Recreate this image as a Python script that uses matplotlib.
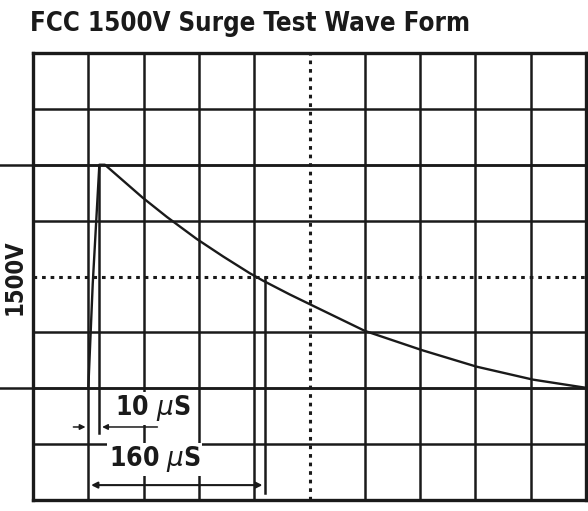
import matplotlib
matplotlib.use("Agg")
import matplotlib.pyplot as plt

# surge waveform (time in uS, amplitude in V)
time_us = [0, 4, 10, 15, 49, 71, 98, 122, 146, 158, 182, 200, 250, 302, 351, 402, 450]
volts = [0, 700, 1500, 1500, 1280, 1150, 1002, 884, 772, 722, 630, 565, 385, 255, 145, 58, 3]

peak_v = 1500
rise_us = 10
half_us = 160
div_us = 50
div_v = 375
x_range = (-50, 450)
y_range = (-750, 2250)

title = "FCC 1500V Surge Test Wave Form"
ylabel = "1500V"
rise_label = "10 $\\mu$S"
half_label = "160 $\\mu$S"

FONT = "DejaVu Sans"
INK = "#1a1a1a"
plt.rcParams["mathtext.fontset"] = "dejavusans"

fig = plt.figure(figsize=(5.88, 5.11), dpi=100)
ax = fig.add_axes([33 / 588, 11 / 511, 553 / 588, 447 / 511])
ax.set_xlim(*x_range)
ax.set_ylim(*y_range)

# scope graticule, dotted centre lines
center_x = (x_range[0] + x_range[1]) / 2
center_y = (y_range[0] + y_range[1]) / 2
for i in range(1, 10):
    x = x_range[0] + i * div_us
    if x == center_x:
        ax.axvline(x, color=INK, lw=2.2, ls=(0, (1.2, 1.6)))
    else:
        ax.axvline(x, color=INK, lw=1.8)
for i in range(1, 8):
    y = y_range[0] + i * div_v
    if y == center_y:
        ax.axhline(y, color=INK, lw=2.2, ls=(0, (1.2, 1.6)))
    else:
        ax.axhline(y, color=INK, lw=1.8)

# peak and baseline reference lines run out past the frame
left_out = x_range[0] - 33 / 553 * (x_range[1] - x_range[0])
for y in (peak_v, 0):
    ax.plot([left_out, x_range[1]], [y, y], color=INK, lw=1.8, clip_on=False)

ax.plot(time_us, volts, color=INK, lw=1.7, zorder=3, solid_joinstyle="round")

# timing markers
ax.plot([rise_us, rise_us], [peak_v, -300], color=INK, lw=1.8, zorder=3)
ax.plot([half_us, half_us], [center_y, -700], color=INK, lw=1.8, zorder=3)

arrow_kw = dict(arrowstyle="-|>", color=INK, lw=1.1, mutation_scale=8)
y_rise = -260
ax.annotate("", xy=(0, y_rise), xytext=(-16, y_rise), arrowprops=arrow_kw)
ax.annotate("", xy=(rise_us, y_rise), xytext=(65, y_rise), arrowprops=arrow_kw)
y_half = -650
ax.annotate("", xy=(half_us, y_half), xytext=(0, y_half),
            arrowprops=dict(arrowstyle="<|-|>", color=INK, lw=1.5, mutation_scale=9))

text_kw = dict(ha="center", va="center", fontsize=19, fontweight="bold",
               family=FONT, fontstretch="condensed", color=INK, zorder=4,
               bbox=dict(facecolor="white", edgecolor="none", pad=1))
ax.text(58, -135, rise_label, **text_kw)
ax.text(60, -478, half_label, **text_kw)

ax.set_xticks([])
ax.set_yticks([])
for s in ax.spines.values():
    s.set_linewidth(2.4)
    s.set_color(INK)

fig.text(15 / 588, 1 - 277 / 511, ylabel, rotation=90, ha="center", va="center",
         fontsize=17, fontweight="bold", family=FONT, fontstretch="condensed", color=INK)
fig.text(30 / 588, 1 - 24 / 511, title, ha="left", va="center", fontsize=18.5,
         fontweight="bold", family=FONT, fontstretch="condensed", color=INK)

fig.savefig("out.png", dpi=100)
